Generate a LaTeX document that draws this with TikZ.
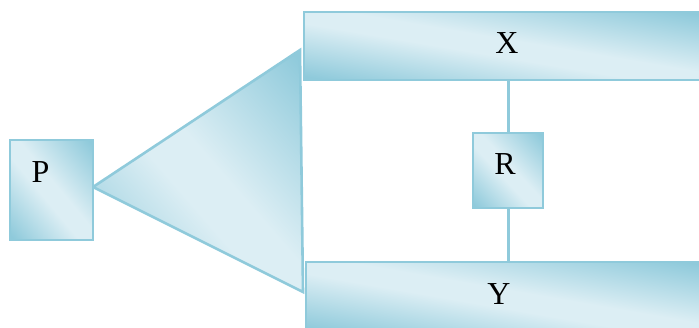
\documentclass[tikz,border=0pt]{standalone}
\usepackage{fontspec}
\setmainfont{Liberation Serif}
\definecolor{bdr}{HTML}{8FCADB}
\definecolor{dk}{HTML}{8FCADB}
\definecolor{lt}{HTML}{DCEEF4}
\pgfdeclareverticalshading{softdiag}{100bp}{color(0bp)=(dk); color(4bp)=(dk); color(42bp)=(lt); color(55bp)=(lt); color(96bp)=(dk); color(100bp)=(dk)}
\newcommand\mydiagfill{%
  \pgfpointdiff{\pgfpointanchor{path picture bounding box}{south west}}{\pgfpointanchor{path picture bounding box}{north east}}%
  \pgfgetlastxy{\ppw}{\pph}%
  \pgfmathsetmacro\dsx{abs(\ppw)/100.375}%
  \pgfmathsetmacro\dsy{abs(\pph)/100.375}%
  \pgftransformcm{\dsx}{0}{0}{\dsy}{\pgfpointanchor{path picture bounding box}{center}}%
  \pgftransformrotate{-45}%
  \pgftransformscale{1.45}%
  \pgflowlevelsynccm
  \pgfuseshading{softdiag}%
}
\tikzset{
  fillstyle/.style={draw=bdr, line width=2.6pt, path picture={\mydiagfill}},
  boxstyle/.style={fillstyle, rectangle, inner sep=0pt},
  lbl/.style={font=\fontsize{32}{32}\selectfont, inner sep=0pt, text=black},
  wire/.style={draw=bdr, line width=3pt}
}
\begin{document}
\begin{tikzpicture}[x=1pt,y=-1pt]
\useasboundingbox (0,0) rectangle (699,328);
\clip (0,0) rectangle (699,328);
% triangle
\coordinate (apex) at (93,187);
\coordinate (ttop) at (300,50);
\coordinate (tbot) at (303,292);
\path[fillstyle] (apex) -- (ttop) -- (tbot) -- cycle;
% boxes
\node[boxstyle, minimum width=83pt, minimum height=100pt] (P) at (51.5,190) {};
\node[boxstyle, minimum width=402pt, minimum height=68pt] (X) at (505,46) {};
\node[boxstyle, minimum width=402pt, minimum height=70pt] (Y) at (507,297) {};
\node[boxstyle, minimum width=70pt, minimum height=75pt] (R) at (508,170.5) {};
% connectors
\draw[wire] (R.north) -- (R.north |- X.south);
\draw[wire] (R.south) -- (R.south |- Y.north);
% labels
\node[lbl] (tP) at (40.5,172) {P};
\node[lbl] (tX) at (507,43) {X};
\node[lbl] (tY) at (499,294) {Y};
\node[lbl] (tR) at (505,164) {R};
\end{tikzpicture}
\end{document}
